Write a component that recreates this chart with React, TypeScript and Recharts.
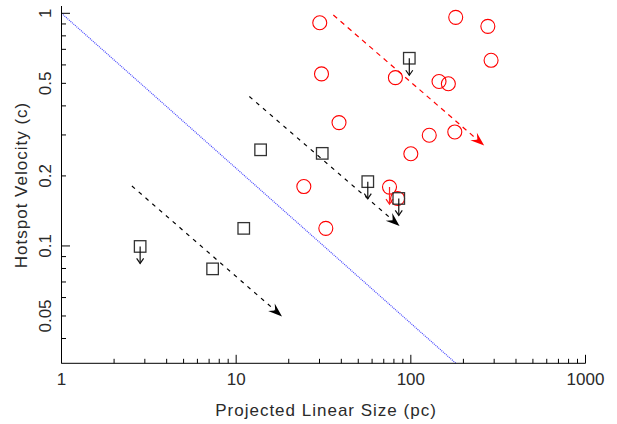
import React from 'react';
import { ScatterChart, Scatter, XAxis, YAxis, ReferenceLine } from 'recharts';

// ---------- data ----------
const xTicks = [1, 2, 3, 4, 5, 6, 7, 8, 9, 10, 20, 30, 40, 50, 60, 70, 80, 90, 100, 200, 300, 400, 500, 600, 700, 800, 900, 1000];
const xTickLabels = ['1', '10', '100', '1000'];
const yTicks = [0.04, 0.05, 0.06, 0.07, 0.08, 0.09, 0.1, 0.2, 0.3, 0.4, 0.5, 0.6, 0.7, 0.8, 0.9, 1];
const yTickLabels = ['0.05', '0.1', '0.2', '0.5', '1'];
const xDomain = [1, 1000];
const yDomain = [0.0313, 1.075];

const redCircles = [
  { x: 30.1, y: 0.911, limit: false },
  { x: 180.7, y: 0.961, limit: false },
  { x: 276, y: 0.879, limit: false },
  { x: 288, y: 0.628, limit: false },
  { x: 30.8, y: 0.549, limit: false },
  { x: 81.6, y: 0.529, limit: false },
  { x: 145, y: 0.509, limit: false },
  { x: 164, y: 0.498, limit: false },
  { x: 38.8, y: 0.339, limit: false },
  { x: 127.5, y: 0.299, limit: false },
  { x: 178.5, y: 0.309, limit: false },
  { x: 100, y: 0.249, limit: false },
  { x: 24.4, y: 0.180, limit: false },
  { x: 75.5, y: 0.179, limit: true },
  { x: 84.0, y: 0.160, limit: false },
  { x: 32.6, y: 0.119, limit: false },
];

const blackSquares = [
  { x: 98.0, y: 0.641, limit: true },
  { x: 13.8, y: 0.259, limit: false },
  { x: 31.1, y: 0.250, limit: false },
  { x: 56.7, y: 0.189, limit: true },
  { x: 85.3, y: 0.160, limit: true },
  { x: 11.05, y: 0.119, limit: false },
  { x: 2.82, y: 0.0995, limit: true },
  { x: 7.33, y: 0.0797, limit: false },
];

const blackArrows = [
  { x1: 2.53, y1: 0.181, x2: 18.3, y2: 0.0498 },
  { x1: 11.9, y1: 0.439, x2: 86.2, y2: 0.1218 },
];
const redArrows = [{ x1: 36.0, y1: 0.983, x2: 263, y2: 0.270 }];
const boundLine = [{ x: 1, y: 1 }, { x: 181, y: 0.0313 }];

// ---------- styling helpers ----------
const FONT = '"Liberation Sans", Arial, sans-serif';
const TEXT_FILL = '#2a2a2a';
const MAJOR = 8.5;
const MINOR = 4.5;
const isDecade = (v: number) => Math.abs(Math.log10(v) - Math.round(Math.log10(v))) < 1e-6;
const fmt = (v: number) => String(v);

function BottomTick(props: any) {
  const { x, y, payload } = props;
  const v = payload.value;
  const len = isDecade(v) ? MAJOR : MINOR;
  const lbl = xTickLabels.includes(fmt(v));
  return (
    <g>
      <line x1={x} y1={y} x2={x} y2={y - len} stroke="#000" strokeWidth={1} />
      {lbl && (
        <text x={x} y={y + 22} textAnchor="middle" fontFamily={FONT} fontSize={17} fill={TEXT_FILL}>
          {fmt(v)}
        </text>
      )}
    </g>
  );
}

function TopTick(props: any) {
  const { x, y, payload } = props;
  const len = isDecade(payload.value) ? MAJOR : MINOR;
  return <line x1={x} y1={y} x2={x} y2={y + len} stroke="#000" strokeWidth={1} />;
}

function LeftTick(props: any) {
  const { x, y, payload } = props;
  const v = payload.value;
  const len = isDecade(v) ? MAJOR : MINOR;
  const lbl = yTickLabels.includes(fmt(v));
  return (
    <g>
      <line x1={x} y1={y} x2={x + len} y2={y} stroke="#000" strokeWidth={1} />
      {lbl && (
        <text
          transform={`translate(${x - 10.5},${y}) rotate(-90)`}
          textAnchor="middle"
          fontFamily={FONT}
          fontSize={17}
          fill={TEXT_FILL}
        >
          {fmt(v)}
        </text>
      )}
    </g>
  );
}

function RightTick(props: any) {
  const { x, y, payload } = props;
  const len = isDecade(payload.value) ? MAJOR : MINOR;
  return <line x1={x} y1={y} x2={x - len} y2={y} stroke="#000" strokeWidth={1} />;
}

function DownArrow({ cx, cy, color }: any) {
  const L = 17;
  return (
    <g>
      <line x1={cx} y1={cy} x2={cx} y2={cy + L} stroke={color} strokeWidth={1.2} />
      <polyline
        points={`${cx - 3.5},${cy + L - 5} ${cx},${cy + L} ${cx + 3.5},${cy + L - 5}`}
        fill="none"
        stroke={color}
        strokeWidth={1.2}
      />
    </g>
  );
}

function CircleShape(props: any) {
  const { cx, cy, payload } = props;
  return (
    <g>
      <circle cx={cx} cy={cy} r={7} fill="none" stroke="#ff0000" strokeWidth={1.1} />
      {payload.limit && <DownArrow cx={cx} cy={cy} color="#ff2020" />}
    </g>
  );
}

function SquareShape(props: any) {
  const { cx, cy, payload } = props;
  const s = 11.5;
  return (
    <g>
      <rect x={cx - s / 2} y={cy - s / 2} width={s} height={s} fill="none" stroke="#333" strokeWidth={1.3} />
      {payload.limit && <DownArrow cx={cx} cy={cy} color="#111" />}
    </g>
  );
}

function DashedArrow(props: any) {
  const { x1, y1, x2, y2, color, dash } = props;
  const dx = x2 - x1;
  const dy = y2 - y1;
  const L = Math.hypot(dx, dy) || 1;
  const ux = dx / L;
  const uy = dy / L;
  const px = -uy;
  const py = ux;
  const head = 14;
  const half = 5;
  const notch = 9;
  const bx = x2 - ux * head;
  const by = y2 - uy * head;
  const nx = x2 - ux * notch;
  const ny = y2 - uy * notch;
  const pts = `${x2},${y2} ${bx + px * half},${by + py * half} ${nx},${ny} ${bx - px * half},${by - py * half}`;
  return (
    <g>
      <line x1={x1} y1={y1} x2={nx} y2={ny} stroke={color} strokeDasharray={dash} strokeWidth={1.2} />
      <polygon points={pts} fill={color} />
    </g>
  );
}

function DottedLine(props: any) {
  const { x1, y1, x2, y2 } = props;
  return <line x1={x1} y1={y1} x2={x2} y2={y2} stroke="#4646ff" strokeDasharray="1 1" strokeWidth={1.2} />;
}

export default function App() {
  return (
    <div style={{ position: 'absolute', left: 0, top: 0, width: 617, height: 424, background: '#fff' }}>
      <ScatterChart width={617} height={424} margin={{ top: 6, right: 31.5, bottom: 0, left: 0 }}>
        <XAxis
          dataKey="x"
          type="number"
          scale="log"
          domain={xDomain}
          allowDataOverflow
          ticks={xTicks}
          interval={0}
          tickSize={0}
          tickMargin={0}
          height={60.7}
          stroke="#000"
          tick={(p: any) => <BottomTick {...p} />}
        />
        <XAxis
          xAxisId="top"
          orientation="top"
          type="number"
          scale="log"
          domain={xDomain}
          allowDataOverflow
          ticks={xTicks}
          interval={0}
          tickSize={0}
          tickMargin={0}
          height={0}
          stroke="#000"
          tick={(p: any) => <TopTick {...p} />}
        />
        <YAxis
          dataKey="y"
          type="number"
          scale="log"
          domain={yDomain}
          allowDataOverflow
          ticks={yTicks}
          interval={0}
          tickSize={0}
          tickMargin={0}
          width={61.5}
          stroke="#000"
          tick={(p: any) => <LeftTick {...p} />}
        />
        <YAxis
          yAxisId="right"
          orientation="right"
          type="number"
          scale="log"
          domain={yDomain}
          allowDataOverflow
          ticks={yTicks}
          interval={0}
          tickSize={0}
          tickMargin={0}
          width={0}
          stroke="#000"
          tick={(p: any) => <RightTick {...p} />}
        />
        <ReferenceLine
          segment={boundLine}
          ifOverflow="visible"
          shape={(p: any) => <DottedLine {...p} />}
        />
        {blackArrows.map((a, i) => (
          <ReferenceLine
            key={`ba${i}`}
            segment={[{ x: a.x1, y: a.y1 }, { x: a.x2, y: a.y2 }]}
            ifOverflow="visible"
            shape={(p: any) => <DashedArrow {...p} color="#000" dash="4 5" />}
          />
        ))}
        {redArrows.map((a, i) => (
          <ReferenceLine
            key={`ra${i}`}
            segment={[{ x: a.x1, y: a.y1 }, { x: a.x2, y: a.y2 }]}
            ifOverflow="visible"
            shape={(p: any) => <DashedArrow {...p} color="#ff0000" dash="5 4.5" />}
          />
        ))}
        <Scatter data={redCircles} isAnimationActive={false} shape={(p: any) => <CircleShape {...p} />} />
        <Scatter data={blackSquares} isAnimationActive={false} shape={(p: any) => <SquareShape {...p} />} />
        <text
          x={326}
          y={416}
          textAnchor="middle"
          fontFamily={FONT}
          fontSize={17}
          letterSpacing={1}
          fill={TEXT_FILL}
        >
          Projected Linear Size (pc)
        </text>
        <text
          transform="translate(27,185) rotate(-90)"
          textAnchor="middle"
          fontFamily={FONT}
          fontSize={17}
          letterSpacing={1}
          fill={TEXT_FILL}
        >
          Hotspot Velocity (c)
        </text>
      </ScatterChart>
    </div>
  );
}
